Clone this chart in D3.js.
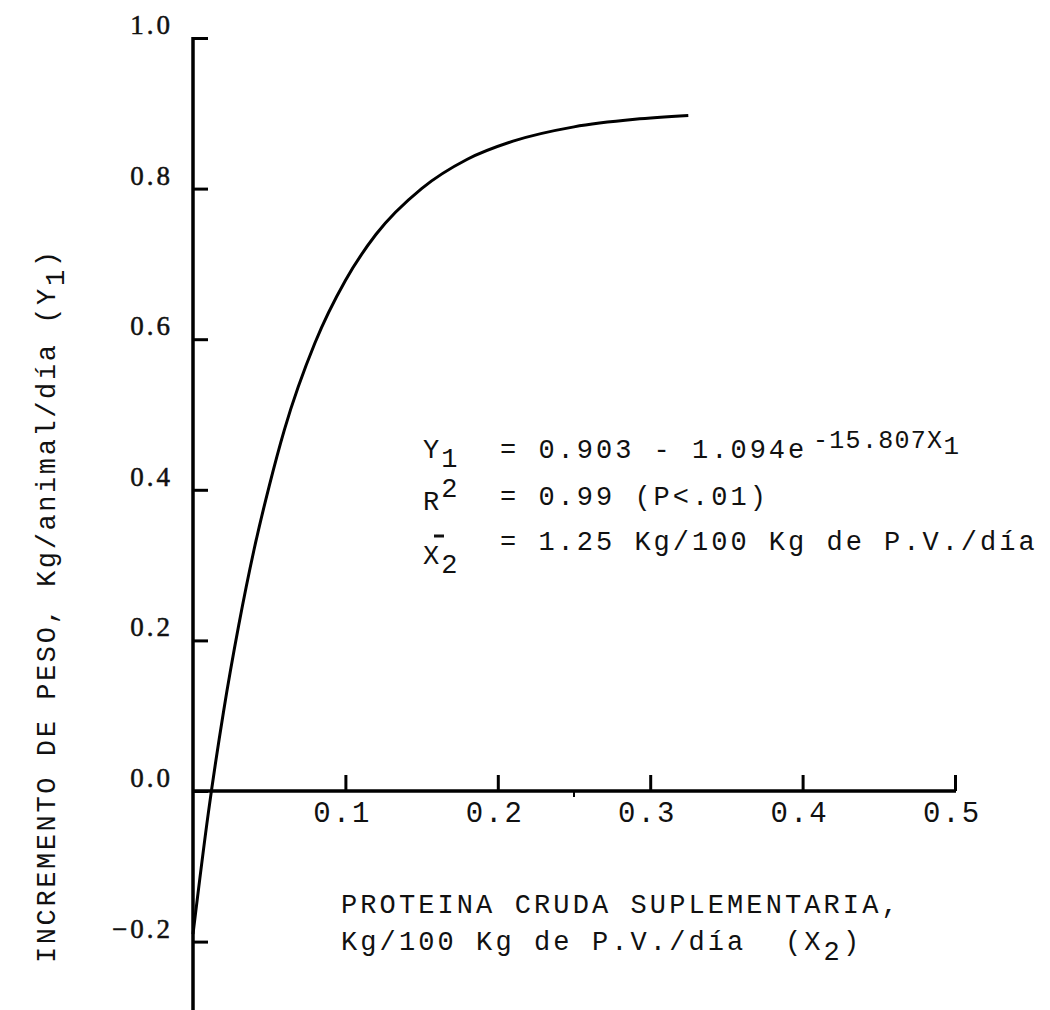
<!DOCTYPE html>
<html>
<head>
<meta charset="utf-8">
<script src="https://cdn.jsdelivr.net/npm/d3@7"></script>
<style>
  html, body { margin: 0; padding: 0; background: #fff; }
  svg { display: block; }
</style>
</head>
<body>
<svg id="chart" width="1050" height="1010"></svg>
<script>
// ---- data ----
const curveX = [0, 0.01, 0.02, 0.03, 0.04, 0.05, 0.06, 0.08, 0.10, 0.12, 0.15, 0.18, 0.21, 0.25, 0.29, 0.325];
const curveY = [-0.19, -0.03, 0.105, 0.22, 0.32, 0.405, 0.48, 0.595, 0.678, 0.739, 0.80, 0.839, 0.863, 0.882, 0.892, 0.897];
const xTicks = [0.1, 0.2, 0.3, 0.4, 0.5];
const xTickLabels = ["0.1", "0.2", "0.3", "0.4", "0.5"];
const xMinorTicks = [0.25];
const yTicks = [1.0, 0.8, 0.6, 0.4, 0.2, 0.0, -0.2];
const yTickLabels = ["1.0", "0.8", "0.6", "0.4", "0.2", "0.0", "\u22120.2"];

const svg = d3.select("#chart");
const x = d3.scaleLinear().domain([0, 0.5]).range([193, 955]);
const y = d3.scaleLinear().domain([0, 1.0]).range([791, 38]);

const mono = "'Liberation Mono', 'Courier New', monospace";
const serif = "'Liberation Serif', 'Times New Roman', serif";
const ink = "#111";
const sp = "\u00a0";

// Y axis (ticks pointing right)
const yAxis = d3.axisRight(y).tickValues(yTicks).tickSize(15).tickFormat("");
const gy = svg.append("g").attr("transform", `translate(${x(0)},0)`).call(yAxis);
gy.select(".domain").remove();
gy.selectAll(".tick line").attr("stroke", "#000").attr("stroke-width", 3);
svg.append("line")
  .attr("x1", x(0)).attr("x2", x(0))
  .attr("y1", y(1.0) - 1).attr("y2", 1010)
  .attr("stroke", "#000").attr("stroke-width", 3.5);

// Y tick labels
svg.append("g").selectAll("text").data(yTicks).join("text")
  .attr("x", 173).attr("y", d => y(d) - 4)
  .attr("text-anchor", "end")
  .attr("font-family", serif).attr("font-size", 27)
  .attr("letter-spacing", 3)
  .attr("stroke", ink).attr("stroke-width", 0.5)
  .attr("fill", ink)
  .text((d, i) => yTickLabels[i]);

// X axis (ticks pointing up)
const xAxis = d3.axisTop(x).tickValues(xTicks).tickSize(16).tickFormat("");
const gx = svg.append("g").attr("transform", `translate(0,${y(0)})`).call(xAxis);
gx.select(".domain").remove();
gx.selectAll(".tick line").attr("stroke", "#000").attr("stroke-width", 3);
svg.append("line")
  .attr("x1", x(0)).attr("x2", x(0.5) + 1)
  .attr("y1", y(0)).attr("y2", y(0))
  .attr("stroke", "#000").attr("stroke-width", 3.5);
// minor tick below
svg.append("g").selectAll("line").data(xMinorTicks).join("line")
  .attr("x1", d => x(d)).attr("x2", d => x(d))
  .attr("y1", y(0)).attr("y2", y(0) + 6)
  .attr("stroke", "#000").attr("stroke-width", 2);

// X tick labels
svg.append("g").selectAll("text").data(xTicks).join("text")
  .attr("x", d => x(d) - 3).attr("y", 822)
  .attr("text-anchor", "middle")
  .attr("font-family", mono).attr("font-size", 29)
  .attr("letter-spacing", 2)
  .attr("fill", ink)
  .text((d, i) => xTickLabels[i]);

// Curve
const pts = curveX.map((v, i) => [v, curveY[i]]);
const line = d3.line().x(d => x(d[0])).y(d => y(d[1])).curve(d3.curveMonotoneX);
svg.append("path").datum(pts)
  .attr("d", line)
  .attr("fill", "none").attr("stroke", "#000").attr("stroke-width", 3);

// X axis title
const xt = svg.append("text").attr("font-family", mono).attr("font-size", 27)
  .attr("letter-spacing", 3.1).attr("fill", ink);
xt.append("tspan").attr("x", 341).attr("y", 913).text("PROTEINA CRUDA SUPLEMENTARIA,");
xt.append("tspan").attr("x", 341).attr("y", 950).text("Kg/100 Kg de P.V./día" + sp + sp + "(X");
xt.append("tspan").attr("dy", 10).text("2");
xt.append("tspan").attr("dy", -10).text(")");

// Y axis title (rotated)
const yt = svg.append("text")
  .attr("transform", "translate(55,963) rotate(-90)")
  .attr("font-family", mono).attr("font-size", 27).attr("letter-spacing", 2.6).attr("fill", ink);
yt.append("tspan").text("INCREMENTO DE PESO, Kg/animal/día (Y");
yt.append("tspan").attr("dy", 9).text("1");
yt.append("tspan").attr("dy", -9).text(")");

// Annotation
const ann = svg.append("g").attr("font-family", mono).attr("font-size", 27)
  .attr("letter-spacing", 2).attr("fill", ink);
// line 1
const l1 = ann.append("text").attr("x", 423).attr("y", 458);
l1.append("tspan").text("Y");
l1.append("tspan").attr("dy", 9).text("1");
ann.append("text").attr("x", 500).attr("y", 458).attr("letter-spacing", 3).text("= 0.903 - 1.094e");
const ex = ann.append("text").attr("x", 813).attr("y", 448)
  .attr("font-size", 25).attr("letter-spacing", 1.3);
ex.append("tspan").text("-15.807X");
ex.append("tspan").attr("dy", 6).attr("font-size", 26).text("1");
// line 2
const l2 = ann.append("text").attr("x", 423).attr("y", 510);
l2.append("tspan").text("R");
l2.append("tspan").attr("dy", -13).text("2");
ann.append("text").attr("x", 500).attr("y", 505).attr("letter-spacing", 3).text("= 0.99 (P<.01)");
// line 3
const l3 = ann.append("text").attr("x", 423).attr("y", 564);
l3.append("tspan").text("X");
l3.append("tspan").attr("dy", 9).text("2");
ann.append("line").attr("x1", 434).attr("x2", 444).attr("y1", 536).attr("y2", 536)
  .attr("stroke", ink).attr("stroke-width", 3);
ann.append("text").attr("x", 500).attr("y", 550).attr("letter-spacing", 3).text("= 1.25 Kg/100 Kg de P.V./día");
</script>
</body>
</html>
